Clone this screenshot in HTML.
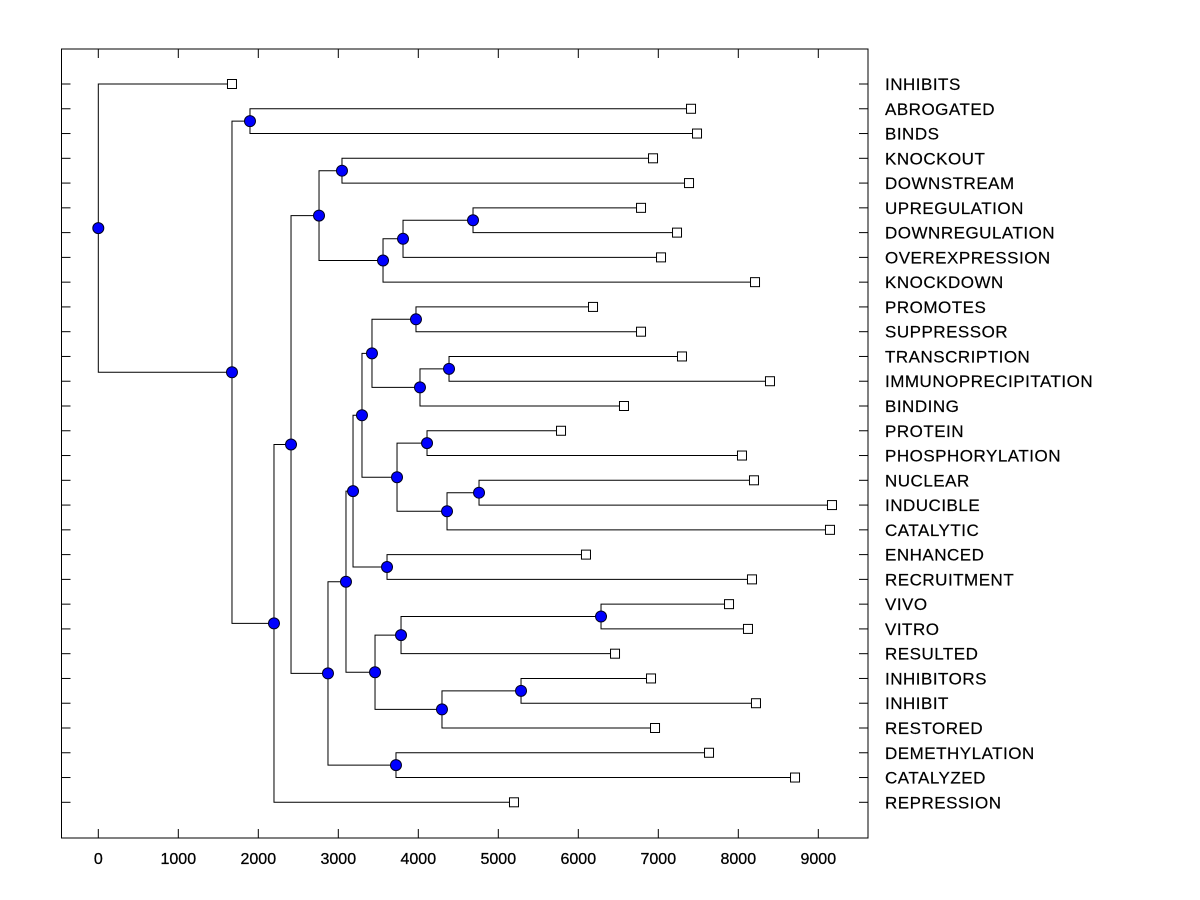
<!DOCTYPE html>
<html><head><meta charset="utf-8"><style>
html,body{margin:0;padding:0;background:#fff;}
svg{display:block;}
text{font-family:"Liberation Sans",Arial,sans-serif;}
</style></head><body>
<svg id="chart" width="1200" height="900"></svg>
<script>
const leafLabels=["INHIBITS","ABROGATED","BINDS","KNOCKOUT","DOWNSTREAM","UPREGULATION","DOWNREGULATION","OVEREXPRESSION","KNOCKDOWN","PROMOTES","SUPPRESSOR","TRANSCRIPTION","IMMUNOPRECIPITATION","BINDING","PROTEIN","PHOSPHORYLATION","NUCLEAR","INDUCIBLE","CATALYTIC","ENHANCED","RECRUITMENT","VIVO","VITRO","RESULTED","INHIBITORS","INHIBIT","RESTORED","DEMETHYLATION","CATALYZED","REPRESSION"];
const leafValues=[1671,7409,7484,6934,7384,6784,7234,7034,8209,6184,6784,7296,8396,6571,5784,8046,8196,9171,9146,6096,8171,7884,8121,6459,6909,8221,6959,7634,8709,5196];
const nodeIds=["B","J","I","H","G","E","S","U","T","Q","V","X","W","R","O","P","M","AA","Y","AB","Z","N","K","L","F","D","C","A","root"];
const nodeLeft=[1,5,"J","I",3,"G",9,11,"U","S",14,16,"X","V","Q",19,"O",21,"AA",24,"AB","Y","M",27,"K","E","D","B",0];
const nodeRight=[2,6,7,8,4,"H",10,12,13,"T",15,17,18,"W","R",20,"P",22,23,25,26,"Z","N",28,"L","F",29,"C","A"];
const nodeHeights=[1896,4684,3809,3559,3046,2759,3971,4384,4021,3421,4109,4759,4359,3734,3296,3609,3184,6284,3784,5284,4296,3459,3096,3721,2871,2409,2196,1671,0];
const xTicks=[0,1000,2000,3000,4000,5000,6000,7000,8000,9000];

const NS="http://www.w3.org/2000/svg";
const svg=document.getElementById('chart');
const L=61.5,R=868,T=49,B=838;
const X=v=>98.3+v*0.08;
const Y=i=>84+i*(802.3-84)/29;
function mk(tag,attrs,parent){const e=document.createElementNS(NS,tag);for(const k in attrs)e.setAttribute(k,attrs[k]);(parent||svg).appendChild(e);return e;}

const frame=mk('rect',{x:L,y:T,width:R-L,height:B-T,fill:'none',stroke:'#000','stroke-width':1});



const axisG=mk('g',{});


xTicks.forEach(v=>{
  const x=X(v);
  const t1=mk('line',{x1:x,x2:x,y1:B,y2:B-9,stroke:'#000'},axisG);
  
  
  const t2=mk('line',{x1:x,x2:x,y1:T,y2:T+9,stroke:'#000'},axisG);
  
  
  const tl=mk('text',{x:x,y:864,'text-anchor':'middle','font-size':16,'stroke':'#000','stroke-width':0.3},axisG);
  tl.textContent=v;
  
  
});

const lblG=mk('g',{});


leafLabels.forEach((s,i)=>{
  const y=Y(i);
  const a=mk('line',{x1:L,x2:L+9,y1:y,y2:y,stroke:'#000'},lblG);
  
  
  const b=mk('line',{x1:R,x2:R-9,y1:y,y2:y,stroke:'#000'},lblG);
  
  
  const t=mk('text',{x:885,y:y+6,'font-size':17,'letter-spacing':0.5,'stroke':'#000','stroke-width':0.2},lblG);
  t.textContent=s;
  
  
});

const pos={};
leafValues.forEach((v,i)=>{pos[i]={x:X(v),y:Y(i)};});
const getP=c=>pos[c];
nodeIds.forEach((id,k)=>{
  const a=getP(nodeLeft[k]),b=getP(nodeRight[k]);
  pos[id]={x:X(nodeHeights[k]),y:(a.y+b.y)/2};
});
const linkG=mk('g',{fill:'none',stroke:'#000','stroke-width':1});


nodeIds.forEach((id,k)=>{
  const p=pos[id],a=getP(nodeLeft[k]),b=getP(nodeRight[k]);
  const pth=mk('path',{d:`M${a.x},${a.y}H${p.x}V${b.y}H${b.x}`},linkG);
  
  
});
leafValues.forEach((v,i)=>{
  const p=pos[i];
  const r=mk('rect',{x:p.x-4.5,y:p.y-4.5,width:9,height:9,fill:'#fff',stroke:'#000'});
  
  
});
nodeIds.forEach(id=>{
  const p=pos[id];
  const c=mk('circle',{cx:p.x,cy:p.y,r:5.5,fill:'#0000ff',stroke:'#000022','stroke-width':1});
  
  
});
</script>
</body></html>
